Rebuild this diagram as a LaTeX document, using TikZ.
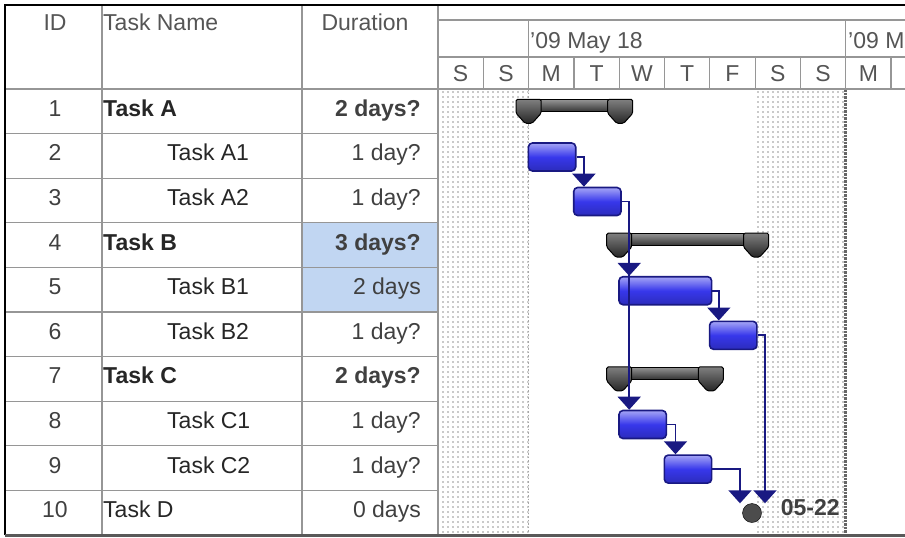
\documentclass[tikz,border=0pt]{standalone}
\usepackage{fontspec}
\setmainfont{Liberation Sans}
\usetikzlibrary{arrows.meta,patterns,positioning}
\definecolor{gridgray}{RGB}{150,150,150}
\definecolor{headgray}{RGB}{85,85,85}
\definecolor{linkblue}{RGB}{25,25,130}
\definecolor{barblue}{RGB}{55,55,235}
\definecolor{durblue}{RGB}{193,214,242}
\pgfdeclarepatternformonly{weekdots}{\pgfpointorigin}{\pgfpoint{4.5pt}{4.5pt}}{\pgfpoint{4.5pt}{4.5pt}}{%
  \pgfpathcircle{\pgfpoint{2.25pt}{2.25pt}}{0.95pt}\pgfusepath{fill}}

\begin{document}
\begin{tikzpicture}[x=1pt,y=-1pt,
    font=\fontsize{23}{26}\selectfont,
    cell/.style={inner sep=0pt,text height=16pt,text depth=0pt},
    taskbar/.style={draw=linkblue,line width=1.6pt,rounded corners=4pt,anchor=west,minimum height=28pt,
      inner sep=0pt,top color=barblue!45!white,bottom color=barblue!80!black,middle color=barblue},
    sumbar/.style={draw=black,line width=1pt,anchor=north west,minimum height=12pt,inner sep=0pt,
      top color=gray!85,bottom color=black!80},
    sumcap/.style={draw=black,line width=1pt,top color=gray,bottom color=black!85,rounded corners=1.5pt},
    milestone/.style={circle,draw=black,fill=black!70,minimum size=19pt,inner sep=0pt},
    link/.style={draw=linkblue,line width=1.8pt,-{Triangle[width=23pt,length=13pt]}}]
  \useasboundingbox (0,0) rectangle (905,538);
  \clip (0,0) rectangle (905,538);
  % highlighted durations
  \fill[durblue] (302,222.8) rectangle (438,312);
  % weekends
  \fill[pattern=weekdots,pattern color=gray!85] (440,89) rectangle (528.6,533);
  \fill[pattern=weekdots,pattern color=gray!85] (755.1,89) rectangle (845.7,533);
  \draw[gray!70,dotted,line width=1.5pt] (528.6,89) -- (528.6,533);
  \draw[gray!80!black,densely dotted,line width=2.5pt] (845.7,89) -- (845.7,533);
  % grid
  \foreach \k in {1,...,9}
    \draw[gridgray,line width=1.2pt] (5,{89+44.6*\k}) -- (438,{89+44.6*\k});
  \draw[gridgray,line width=1.5pt] (5,89) -- (905,89);
  \draw[gridgray,line width=1.5pt] (102,5) -- (102,535) (302,5) -- (302,535) (438,5) -- (438,535);
  \draw[gridgray,line width=1.2pt] (438,20) -- (905,20) (438,57) -- (905,57);
  \draw[gridgray,line width=1.2pt] (528.6,20) -- (528.6,89) (845.7,20) -- (845.7,89);
  \foreach \k in {1,...,10}
    \draw[gridgray,line width=1.2pt] ({438+45.3*\k},57) -- ({438+45.3*\k},89);
  \draw[black,line width=2.5pt] (5,535) -- (5,5) -- (905,5);
  \draw[gray!70!black,line width=3pt] (5,535) -- (905,535);
  % header
  \node[cell,headgray] (hid) at (55,22) {ID};
  \node[cell,headgray,anchor=west] (hname) at (103,22) {Task Name};
  \node[cell,headgray] (hdur) at (365,22) {Duration};
  \node[cell,headgray,anchor=west] (wk1) at (530,40) {’09 May 18};
  \node[cell,headgray,anchor=west] (wk2) at (848,40) {’09 M};
  \foreach \d [count=\k] in {S,S,M,T,W,T,F,S,S,M}
    \node[cell,headgray] (day\k) at ({438+45.3*(\k-0.5)},73) {\d};
  % table rows
  \foreach \i/\n/\d/\x/\f in {1/Task A/2 days?/103/\bfseries, 2/Task A1/1 day?/167/\mdseries,
      3/Task A2/1 day?/167/\mdseries, 4/Task B/3 days?/103/\bfseries, 5/Task B1/2 days/167/\mdseries,
      6/Task B2/1 day?/167/\mdseries, 7/Task C/2 days?/103/\bfseries, 8/Task C1/1 day?/167/\mdseries,
      9/Task C2/1 day?/167/\mdseries, 10/Task D/0 days/103/\mdseries} {
    \node[cell,black!75] (id\i) at (55,{89+44.6*(\i-0.5)-3}) {\i};
    \node[cell,black!85,anchor=west] (name\i) at (\x,{89+44.6*(\i-0.5)-3}) {\f\n};
    \node[cell,black!75,anchor=east] (dur\i) at (421,{89+44.6*(\i-0.5)-3}) {\f\d};
  }
  % summary bars
  \node[sumbar,minimum width=90.6pt] (sa) at (528.6,99.3) {};
  \node[sumbar,minimum width=135.9pt] (sb) at (619.2,233.1) {};
  \node[sumbar,minimum width=90.6pt] (sc) at (619.2,366.9) {};
  \foreach \p in {sa.north west,sa.north east,sb.north west,sb.north east,sc.north west,sc.north east}
    \draw[sumcap] ([xshift=-12.5pt]\p) -- ++(25,0) -- ++(0,14) -- ++(-9,10) -- ++(-7,0) -- ++(-9,-10) -- cycle;
  % task bars
  \node[taskbar,minimum width=47.3pt] (a1) at (527.6,157) {};
  \node[taskbar,minimum width=47.3pt] (a2) at (572.9,201.5) {};
  \node[taskbar,minimum width=92.6pt] (b1) at (618.2,290.7) {};
  \node[taskbar,minimum width=47.3pt] (b2) at (708.8,335.3) {};
  \node[taskbar,minimum width=47.3pt] (c1) at (618.2,424.5) {};
  \node[taskbar,minimum width=47.3pt] (c2) at (663.5,469.1) {};
  \node[milestone] (d) at (752,513) {};
  \node[cell,font=\fontsize{23}{26}\selectfont\bfseries,black!75,right=19pt of d,yshift=6pt] (dlab) {05-22};
  % links
  \draw[link] (a1.east) -| ([xshift=11pt]a2.north west);
  \draw[link] (a2.east) -| ([xshift=11pt]b1.north west);
  \draw[link] (a2.east) -| ([xshift=11pt]c1.north west);
  \draw[link] (b1.east) -| ([xshift=10pt]b2.north west);
  \draw[link] (c1.east) -| ([xshift=12pt]c2.north west);
  \draw[link] (c2.east) -| ([xshift=-12pt]d.north);
  \draw[link] (b2.east) -| ([xshift=13pt]d.north);
\end{tikzpicture}
\end{document}
